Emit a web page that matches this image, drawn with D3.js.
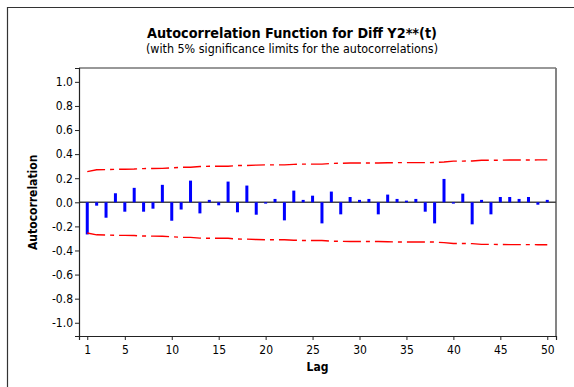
<!DOCTYPE html>
<html>
<head>
<meta charset="utf-8">
<script src="https://cdn.jsdelivr.net/npm/d3@7/dist/d3.min.js"></script>
<style>
  html, body { margin: 0; padding: 0; background: #fff; }
  svg { display: block; }
  text { font-family: "DejaVu Sans Condensed", "DejaVu Sans", sans-serif; fill: #000; }
</style>
</head>
<body>
<svg id="chart" width="574" height="387"></svg>
<script>
// Lags and sample autocorrelations
const lags = [1,2,3,4,5,6,7,8,9,10,11,12,13,14,15,16,17,18,19,20,
              21,22,23,24,25,26,27,28,29,30,31,32,33,34,35,36,37,38,39,40,
              41,42,43,44,45,46,47,48,49,50];
const acf = [-0.267,-0.028,-0.128,0.075,-0.078,0.120,-0.078,-0.053,0.145,-0.153,
             -0.060,0.180,-0.092,0.020,-0.025,0.172,-0.083,0.139,-0.103,-0.011,
             0.028,-0.150,0.097,0.020,0.055,-0.175,0.089,-0.100,0.044,0.020,
             0.028,-0.100,0.064,0.028,0.014,0.028,-0.078,-0.175,0.194,-0.011,
             0.072,-0.183,0.020,-0.100,0.044,0.044,0.028,0.044,-0.020,0.020];
// 5% significance limits (upper; lower is the mirror image)
const limits = [0.255,0.270,0.271,0.274,0.275,0.276,0.280,0.281,0.282,0.286,
                0.291,0.291,0.297,0.299,0.299,0.299,0.305,0.306,0.309,0.311,
                0.311,0.311,0.315,0.317,0.317,0.317,0.323,0.324,0.326,0.326,
                0.326,0.326,0.328,0.329,0.329,0.329,0.329,0.330,0.335,0.342,
                0.342,0.343,0.349,0.349,0.350,0.351,0.351,0.351,0.352,0.352];
const yTicks = [-1.0,-0.8,-0.6,-0.4,-0.2,0.0,0.2,0.4,0.6,0.8,1.0];
const xTicks = [1,5,10,15,20,25,30,35,40,45,50];

const svg = d3.select("#chart");
const plot = {left: 79, right: 556, top: 68, bottom: 336};

const x = d3.scaleLinear().domain([0.12, 50.93]).range([plot.left, plot.right]);
const y = d3.scaleLinear().domain([-1.11, 1.115]).range([plot.bottom, plot.top]);

// outer frame
svg.append("path")
  .attr("d", "M7.5,387 L7.5,7.5 L574,7.5")
  .attr("fill", "none").attr("stroke", "#333").attr("stroke-width", 1.2);

// titles
svg.append("text").attr("x", 292).attr("y", 38).attr("text-anchor", "middle")
  .style("font-size", "14.3px").style("font-weight", "bold")
  .text("Autocorrelation Function for Diff Y2**(t)");
svg.append("text").attr("x", 292).attr("y", 53).attr("text-anchor", "middle")
  .style("font-size", "12.4px")
  .text("(with 5% significance limits for the autocorrelations)");

// plot border
svg.append("line").attr("x1", plot.left).attr("x2", plot.right)
  .attr("y1", plot.top).attr("y2", plot.top)
  .attr("stroke", "#333").attr("stroke-width", 1.2);
svg.append("line").attr("x1", plot.right).attr("x2", plot.right)
  .attr("y1", plot.top).attr("y2", plot.bottom)
  .attr("stroke", "#777").attr("stroke-width", 1.8);

// zero reference line
svg.append("line").attr("x1", plot.left).attr("x2", plot.right)
  .attr("y1", y(0)).attr("y2", y(0))
  .attr("stroke", "#444").attr("stroke-width", 1.5);

// autocorrelation bars
svg.append("g").selectAll("rect").data(lags).join("rect")
  .attr("x", (d) => x(d) - 1.5)
  .attr("width", 3)
  .attr("y", (d, i) => y(Math.max(0, acf[i])))
  .attr("height", (d, i) => Math.abs(y(acf[i]) - y(0)))
  .attr("fill", "#0000ff");

// significance limit lines
const limLine = (sign) => d3.line()
  .x((d) => x(d))
  .y((d, i) => y(sign * limits[i]));
[1, -1].forEach((s) => {
  svg.append("path").datum(lags)
    .attr("d", limLine(s))
    .attr("fill", "none")
    .attr("stroke", "#ff0000")
    .attr("stroke-width", 1.4)
    .attr("stroke-dasharray", "18,5,4,5");
});

// axes
const yAxis = svg.append("g").attr("transform", `translate(${plot.left},0)`)
  .call(d3.axisLeft(y).tickValues(yTicks).tickSize(4).tickPadding(2)
    .tickFormat((d) => d.toFixed(1)));
const xAxis = svg.append("g").attr("transform", `translate(0,${plot.bottom})`)
  .call(d3.axisBottom(x).tickValues(xTicks).tickSize(4).tickPadding(5)
    .tickFormat((d) => String(d)));
[yAxis, xAxis].forEach((g) => {
  g.select(".domain").attr("stroke", "#222").attr("stroke-width", 1.2);
  g.selectAll(".tick line").attr("stroke", "#222");
  g.selectAll(".tick text").style("font-size", "12px")
    .style("font-family", '"DejaVu Sans Condensed", "DejaVu Sans", sans-serif');
});

// axis titles
svg.append("text").attr("x", (plot.left + plot.right) / 2).attr("y", 371)
  .attr("text-anchor", "middle").style("font-size", "12px").style("font-weight", "bold")
  .text("Lag");
svg.append("text")
  .attr("transform", `translate(37,${y(0)}) rotate(-90)`)
  .attr("text-anchor", "middle").style("font-size", "12px").style("font-weight", "bold")
  .text("Autocorrelation");
</script>
</body>
</html>
